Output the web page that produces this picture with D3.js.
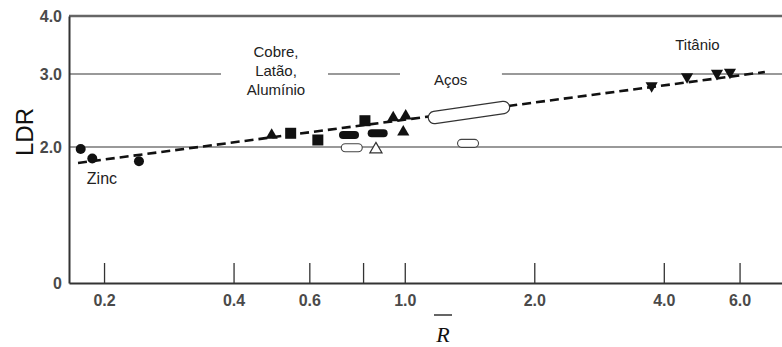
<!DOCTYPE html>
<html>
<head>
    <meta charset="utf-8">
    <title>LDR vs R</title>
    <style>
        body{ margin: 0; background: #fff; }
        svg{ display: block; }
        text{ font-family: Arial, "Liberation Sans", sans-serif; fill: #222; }
        .tick text{ font-size: 16px; font-weight: bold; fill: #4a4a4a; }
        .note{ font-size: 15px; }
    </style>
    <script src="https://cdn.jsdelivr.net/npm/d3@7"></script>
</head>
<body>
<svg></svg>
<script type="text/javascript">
    // axis ticks
    const xTicks = [0.2, 0.4, 0.6, 0.8, 1.0, 2.0, 4.0, 6.0]
    const xTickLabels = ["0.2", "0.4", "0.6", "", "1.0", "2.0", "4.0", "6.0"]
    const yTicks = [0, 2, 3, 4]
    const yTickLabels = ["0", "2.0", "3.0", "4.0"]

    // points [R, LDR]
    const zinc = [[0.1765, 1.97], [0.1878, 1.83], [0.2411, 1.79]]
    const triUp = [[0.4905, 2.174], [0.940, 2.415], [1.005, 2.438], [0.992, 2.219]]
    const squares = [[0.543, 2.188], [0.628, 2.096], [0.808, 2.36]]
    const pillsFilled = [[0.742, 2.164], [0.865, 2.188]]
    const pillsOpen = [[0.753, 1.99], [1.403, 2.05]]
    const triOpen = [[0.857, 1.98]]
    const steelBand = [[1.172, 2.404], [1.696, 2.541]]
    const titanium = [[3.748, 2.826], [4.53, 2.949], [5.317, 2.995], [5.70, 3.012]]
    const trend = [[0.174, 1.765], [6.87, 3.034]]

    // the LDR = 3.0 line is broken where the labels sit
    const grid3 = [[0.1658, 0.374], [0.663, 0.975], [1.682, 7.53]]

    const notes = [
        {text: ["Cobre,", "Latão,", "Alumínio"], x: 0.502, y: 3.379, size: 15},
        {text: ["Aços"], x: 1.278, y: 2.918, size: 15},
        {text: ["Titânio"], x: 4.79, y: 3.5, size: 15},
        {text: ["Zinc"], x: 0.1978, y: 1.544, size: 16}
    ]

    const W = 782, H = 347
    let svg = d3.select('svg').attr('width', W).attr('height', H)

    let x = d3.scaleLog().domain([0.1658, 7.53]).range([69, 782])
    let y = d3.scaleLinear().domain(yTicks).range([283, 147, 74, 16])

    // ******************************
    // grid lines
    svg.append('line')
        .attr('x1', x.range()[0]).attr('x2', x.range()[1])
        .attr('y1', y(4)).attr('y2', y(4))
        .attr('stroke', '#666').attr('stroke-width', 2.5)
    svg.append('line')
        .attr('x1', x.range()[0]).attr('x2', x.range()[1])
        .attr('y1', y(2)).attr('y2', y(2))
        .attr('stroke', '#777').attr('stroke-width', 1.5)
    svg.selectAll('.g3').data(grid3).enter().append('line')
        .attr('x1', d => x(d[0])).attr('x2', d => x(d[1]))
        .attr('y1', y(3)).attr('y2', y(3))
        .attr('stroke', '#777').attr('stroke-width', 1.5)

    // ******************************
    // axes
    let xAxis = svg.append('g')
        .attr('transform', `translate(0,${y(0)})`)
        .call(d3.axisBottom(x).tickValues(xTicks)
            .tickFormat((d, i) => xTickLabels[i])
            .tickSizeInner(-20).tickSizeOuter(0).tickPadding(12))
    xAxis.select('.domain').attr('stroke', '#333').attr('stroke-width', 2)
    xAxis.selectAll('.tick line').attr('stroke', '#333').attr('stroke-width', 1.3)

    let yAxis = svg.append('g')
        .attr('transform', `translate(${x.range()[0]},0)`)
        .call(d3.axisLeft(y).tickValues(yTicks)
            .tickFormat((d, i) => yTickLabels[i])
            .tickSize(0).tickPadding(7))
    yAxis.select('.domain').attr('stroke', '#333').attr('stroke-width', 2)

    // ******************************
    // trend line
    svg.append('path')
        .attr('d', d3.line().x(d => x(d[0])).y(d => y(d[1]))(trend))
        .attr('fill', 'none').attr('stroke', '#111')
        .attr('stroke-width', 2.6).attr('stroke-dasharray', '9,5')

    // ******************************
    // markers
    const ink = '#111'
    svg.selectAll('.zn').data(zinc).enter().append('circle')
        .attr('cx', d => x(d[0])).attr('cy', d => y(d[1])).attr('r', 5)
        .attr('fill', ink)

    const tri = d3.symbol().type(d3.symbolTriangle).size(64)
    svg.selectAll('.tu').data(triUp).enter().append('path')
        .attr('d', tri)
        .attr('transform', d => `translate(${x(d[0])},${y(d[1]) + 1})`)
        .attr('fill', ink)
    svg.selectAll('.to').data(triOpen).enter().append('path')
        .attr('d', tri)
        .attr('transform', d => `translate(${x(d[0])},${y(d[1]) + 1})`)
        .attr('fill', '#fff').attr('stroke', '#333').attr('stroke-width', 1.2)
    svg.selectAll('.ti').data(titanium).enter().append('path')
        .attr('d', tri)
        .attr('transform', d => `translate(${x(d[0])},${y(d[1]) - 1}) rotate(180)`)
        .attr('fill', ink)

    svg.selectAll('.sq').data(squares).enter().append('rect')
        .attr('x', d => x(d[0]) - 5.5).attr('y', d => y(d[1]) - 5.5)
        .attr('width', 11).attr('height', 11)
        .attr('fill', ink)

    svg.selectAll('.pf').data(pillsFilled).enter().append('rect')
        .attr('x', d => x(d[0]) - 10).attr('y', d => y(d[1]) - 4)
        .attr('width', 20).attr('height', 8).attr('rx', 4)
        .attr('fill', ink)
    svg.selectAll('.po').data(pillsOpen).enter().append('rect')
        .attr('x', d => x(d[0]) - 10.5).attr('y', d => y(d[1]) - 4)
        .attr('width', 21).attr('height', 8).attr('rx', 4)
        .attr('fill', '#fff').attr('stroke', '#444').attr('stroke-width', 1.1)

    // steels: an open capsule drawn as a wide dark stroke with a white core
    let band = d3.line().x(d => x(d[0])).y(d => y(d[1]))(steelBand)
    svg.append('path').attr('d', band)
        .attr('stroke', '#333').attr('stroke-width', 13.5).attr('stroke-linecap', 'round')
    svg.append('path').attr('d', band)
        .attr('stroke', '#fff').attr('stroke-width', 11.2).attr('stroke-linecap', 'round')

    // ******************************
    // notes
    notes.forEach(n => {
        let t = svg.append('text').attr('class', 'note')
            .attr('text-anchor', 'middle')
            .style('font-size', n.size + 'px')
            .attr('x', x(n.x)).attr('y', y(n.y))
        n.text.forEach((s, i) => {
            t.append('tspan').attr('x', x(n.x))
                .attr('dy', i === 0 ? '0.35em' : '1.25em').text(s)
        })
    })

    // axis titles
    svg.append('text')
        .attr('transform', 'translate(33,132) rotate(-90)')
        .attr('text-anchor', 'middle')
        .style('font-size', '24px').style('fill', '#111')
        .text('LDR')
    svg.append('text')
        .attr('x', 443).attr('y', 342)
        .attr('text-anchor', 'middle')
        .style('font-family', '"Liberation Serif", "Times New Roman", serif')
        .style('font-style', 'italic').style('font-size', '22px').style('fill', '#111')
        .text('R')
    svg.append('line')
        .attr('x1', 434).attr('x2', 452).attr('y1', 315).attr('y2', 315)
        .attr('stroke', '#111').attr('stroke-width', 1.3)
</script>
</body>
</html>
